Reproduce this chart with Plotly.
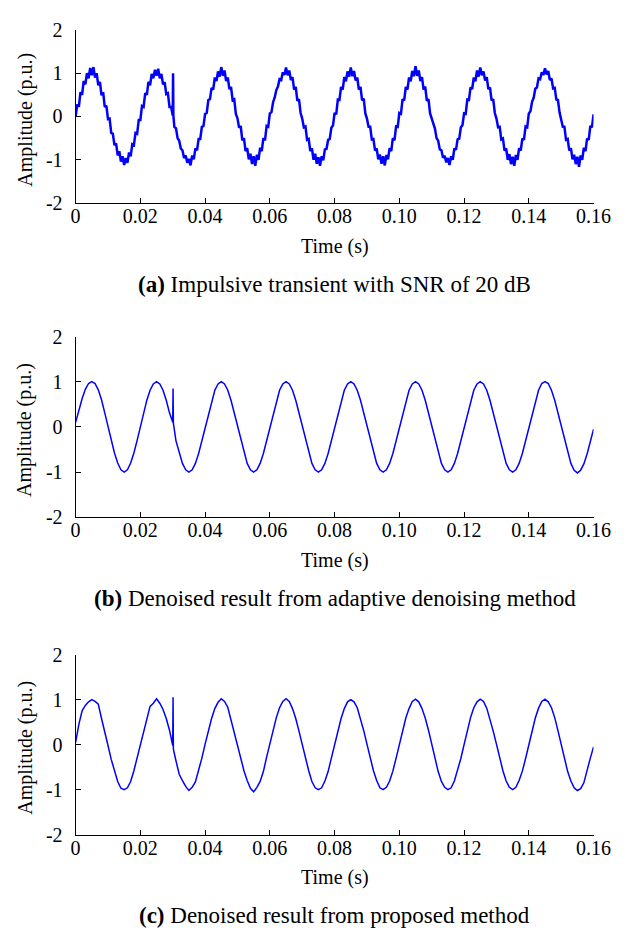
import plotly.graph_objects as go

# ---------------- data ----------------
# panel (a): noisy signal sampled every 0.5 ms (0 .. 0.16 s)
noisy_vals = [
    0.00, 0.28, 0.22, 0.56, 0.50, 0.82, 0.74, 1.00, 0.88, 1.12, 0.95, 1.14, 0.90, 1.00, 0.72, 0.80, 0.49, 0.56, 0.22, 0.25,
    -0.06, -0.05, -0.38, -0.40, -0.66, -0.62, -0.90, -0.80, -1.04, -0.92, -1.12, -0.96, -1.07, -0.83, -0.92, -0.64, -0.66, -0.38, -0.40, -0.08,
    -0.08, 0.24, 0.22, 0.54, 0.50, 0.80, 0.72, 0.98, 0.88, 1.08, 0.94, 1.10, 0.88, 0.98, 0.74, 0.79, 0.52, 0.54, 0.22, 0.22,
    0.02, -0.24, -0.27, -0.50, -0.56, -0.74, -0.78, -0.96, -0.90, -1.07, -0.98, -1.13, -0.90, -0.99, -0.74, -0.78, -0.52, -0.52, -0.24, -0.22,
    0.06, 0.08, 0.38, 0.40, 0.66, 0.62, 0.90, 0.82, 1.04, 0.92, 1.14, 0.94, 1.06, 0.82, 0.90, 0.63, 0.68, 0.38, 0.40, 0.06,
    -0.04, -0.26, -0.22, -0.55, -0.50, -0.80, -0.73, -0.99, -0.86, -1.10, -0.92, -1.14, -0.88, -1.00, -0.72, -0.80, -0.50, -0.55, -0.22, -0.24,
    0.07, 0.10, 0.33, 0.44, 0.61, 0.69, 0.86, 0.84, 1.02, 0.96, 1.13, 0.95, 1.06, 0.84, 0.91, 0.62, 0.68, 0.36, 0.40, 0.08,
    -0.05, -0.25, -0.23, -0.54, -0.52, -0.80, -0.74, -1.00, -0.86, -1.09, -0.94, -1.14, -0.92, -1.01, -0.76, -0.75, -0.54, -0.52, -0.26, -0.21,
    0.08, 0.05, 0.39, 0.38, 0.68, 0.62, 0.91, 0.81, 1.04, 0.92, 1.13, 0.93, 1.05, 0.83, 0.90, 0.62, 0.68, 0.37, 0.41, 0.07,
    -0.05, -0.24, -0.24, -0.53, -0.52, -0.79, -0.74, -0.99, -0.88, -1.09, -0.92, -1.13, -0.89, -0.99, -0.73, -0.80, -0.50, -0.55, -0.23, -0.24,
    0.08, 0.06, 0.40, 0.37, 0.68, 0.62, 0.90, 0.81, 1.05, 0.93, 1.16, 0.94, 1.06, 0.82, 0.91, 0.62, 0.69, 0.36, 0.40, 0.07,
    -0.06, -0.20, -0.28, -0.50, -0.56, -0.76, -0.78, -0.95, -0.91, -1.06, -0.96, -1.12, -0.92, -1.00, -0.74, -0.77, -0.53, -0.51, -0.25, -0.20,
    0.07, 0.06, 0.39, 0.38, 0.67, 0.63, 0.90, 0.81, 1.06, 0.92, 1.13, 0.95, 1.04, 0.83, 0.91, 0.63, 0.67, 0.37, 0.40, 0.08,
    -0.05, -0.25, -0.24, -0.53, -0.51, -0.79, -0.74, -1.00, -0.87, -1.10, -0.93, -1.14, -0.89, -1.00, -0.73, -0.79, -0.51, -0.54, -0.23, -0.25,
    0.07, 0.12, 0.34, 0.43, 0.64, 0.67, 0.88, 0.86, 1.02, 0.96, 1.11, 0.97, 1.05, 0.84, 0.88, 0.65, 0.66, 0.39, 0.38, 0.09,
    -0.06, -0.24, -0.24, -0.54, -0.52, -0.79, -0.73, -0.99, -0.88, -1.10, -0.93, -1.16, -0.90, -1.00, -0.72, -0.80, -0.51, -0.54, -0.22, -0.25,
    0.05,
]
noisy_spike_t = [0.0301, 0.0302]
noisy_spike_v = [1.00, 0.02]

# panel (b): adaptive denoising result, sampled every 1 ms
adaptive_vals = [
    0.10, 0.38, 0.62, 0.83, 0.96, 1.00, 0.96, 0.82, 0.60, 0.31, 0.01, -0.30, -0.58, -0.80, -0.95, -1.00, -0.95, -0.80, -0.58, -0.30,
    0.00, 0.31, 0.59, 0.81, 0.95, 1.00, 0.95, 0.81, 0.59, 0.31, 0.10, -0.31, -0.59, -0.81, -0.95, -1.00, -0.95, -0.81, -0.59, -0.31,
    0.00, 0.31, 0.59, 0.81, 0.95, 1.00, 0.95, 0.81, 0.59, 0.31, 0.00, -0.31, -0.59, -0.81, -0.95, -1.00, -0.95, -0.81, -0.59, -0.31,
    0.00, 0.31, 0.59, 0.81, 0.95, 1.00, 0.95, 0.81, 0.59, 0.31, 0.00, -0.31, -0.59, -0.81, -0.95, -1.00, -0.95, -0.81, -0.59, -0.31,
    0.00, 0.31, 0.59, 0.81, 0.95, 1.00, 0.95, 0.81, 0.59, 0.31, 0.00, -0.31, -0.59, -0.81, -0.95, -1.00, -0.95, -0.81, -0.59, -0.31,
    0.00, 0.31, 0.59, 0.81, 0.95, 1.00, 0.95, 0.81, 0.59, 0.31, 0.00, -0.31, -0.59, -0.81, -0.95, -1.00, -0.95, -0.81, -0.59, -0.31,
    0.00, 0.31, 0.59, 0.81, 0.95, 1.00, 0.95, 0.81, 0.59, 0.31, 0.00, -0.31, -0.59, -0.81, -0.95, -1.00, -0.95, -0.81, -0.59, -0.31,
    0.00, 0.31, 0.59, 0.81, 0.96, 1.00, 0.96, 0.81, 0.59, 0.31, 0.00, -0.31, -0.59, -0.81, -0.96, -1.02, -0.96, -0.82, -0.60, -0.32,
    -0.05,
]
adaptive_spike_t = [0.0301, 0.0302]
adaptive_spike_v = [0.85, 0.08]

# panel (c): proposed method result, sampled every 1 ms
proposed_vals = [
    0.05, 0.45, 0.75, 0.87, 0.95, 1.00, 0.96, 0.90, 0.58, 0.30, -0.02, -0.33, -0.60, -0.82, -0.97, -1.00, -0.96, -0.82, -0.58, -0.28,
    0.02, 0.32, 0.60, 0.85, 0.92, 1.02, 0.92, 0.78, 0.58, 0.32, -0.02, -0.36, -0.66, -0.80, -0.93, -1.02, -0.95, -0.83, -0.58, -0.30,
    0.01, 0.33, 0.58, 0.80, 0.94, 1.02, 0.96, 0.83, 0.55, 0.30, -0.02, -0.32, -0.58, -0.80, -0.97, -1.05, -0.95, -0.82, -0.60, -0.28,
    0.02, 0.32, 0.60, 0.82, 0.96, 1.02, 0.96, 0.80, 0.58, 0.30, 0.00, -0.30, -0.58, -0.82, -0.96, -1.00, -0.96, -0.81, -0.60, -0.30,
    0.00, 0.31, 0.58, 0.80, 0.95, 1.00, 0.95, 0.82, 0.58, 0.31, 0.01, -0.31, -0.58, -0.80, -0.96, -1.00, -0.95, -0.81, -0.59, -0.30,
    0.01, 0.30, 0.59, 0.80, 0.96, 1.01, 0.95, 0.80, 0.59, 0.32, 0.00, -0.31, -0.60, -0.82, -0.95, -1.00, -0.96, -0.81, -0.58, -0.31,
    0.00, 0.31, 0.60, 0.82, 0.95, 1.01, 0.96, 0.81, 0.58, 0.30, 0.01, -0.31, -0.58, -0.81, -0.95, -1.00, -0.95, -0.80, -0.59, -0.31,
    0.00, 0.30, 0.59, 0.81, 0.96, 1.01, 0.95, 0.82, 0.60, 0.31, 0.00, -0.31, -0.60, -0.81, -0.96, -1.02, -0.98, -0.85, -0.55, -0.30,
    -0.05,
]
proposed_spike_t = [0.0301, 0.0302]
proposed_spike_v = [1.05, -0.10]

x_ticks = [0, 0.02, 0.04, 0.06, 0.08, 0.10, 0.12, 0.14, 0.16]
x_ticktext = ["0", "0.02", "0.04", "0.06", "0.08", "0.10", "0.12", "0.14", "0.16"]
y_ticks = [-2, -1, 0, 1, 2]
y_ticktext = ["-2", "-1", "0", "1", "2"]

captions = [
    "<b>(a)</b> Impulsive transient with SNR of 20 dB",
    "<b>(b)</b> Denoised result from adaptive denoising method",
    "<b>(c)</b> Denoised result from proposed method",
]
x_title = "Time (s)"
y_title = "Amplitude (p.u.)"


def with_spike(step, vals, sp_t, sp_v):
    t = [round(i * step, 5) for i in range(len(vals))]
    idx = t.index(0.03) + 1
    return t[:idx] + sp_t + t[idx:], vals[:idx] + sp_v + vals[idx:]


series = [
    with_spike(0.0005, noisy_vals, noisy_spike_t, noisy_spike_v),
    with_spike(0.001, adaptive_vals, adaptive_spike_t, adaptive_spike_v),
    with_spike(0.001, proposed_vals, proposed_spike_t, proposed_spike_v),
]

# ---------------- layout (pixel based) ----------------
W, H = 629, 941
x0_px, x1_px = 73.3, 610.9
panels_px = [(19.3, 196.7), (333.3, 518.3), (659.0, 843.3)]

FONT = "Liberation Serif"
BLUE = "#0000ff"

fig = go.Figure()
annotations = []
for i, ((t, v), (top, bot)) in enumerate(zip(series, panels_px)):
    n = "" if i == 0 else str(i + 1)
    fig.add_trace(go.Scatter(
        x=t, y=v, mode="lines",
        line=dict(color=BLUE, width=2.5 if i == 0 else 1.5),
        xaxis="x" + n, yaxis="y" + n, showlegend=False, hoverinfo="skip",
    ))
    axis_common = dict(
        showline=True, linecolor="black", linewidth=1,
        ticks="inside", ticklen=5, tickwidth=1, tickcolor="black",
        showgrid=False, zeroline=False,
        tickfont=dict(family=FONT, size=20, color="black"),
        mirror=False,
    )
    fig.update_layout(**{
        "xaxis" + n: dict(
            domain=[x0_px / W, x1_px / W], range=[0, 0.16],
            tickmode="array", tickvals=x_ticks, ticktext=x_ticktext,
            anchor="y" + n, ticklabelstandoff=-5, **axis_common),
        "yaxis" + n: dict(
            domain=[1 - bot / H, 1 - top / H], range=[-2, 2],
            tickmode="array", tickvals=y_ticks, ticktext=y_ticktext,
            anchor="x" + n, ticklabelstandoff=8, **axis_common),
    })
    cx = (x0_px + x1_px) / 2 / W
    annotations.append(dict(
        text=x_title, x=cx, y=1 - (bot + 44) / H, xref="paper", yref="paper",
        xanchor="center", yanchor="middle", showarrow=False,
        font=dict(family=FONT, size=20, color="black")))
    annotations.append(dict(
        text=captions[i], x=cx, y=1 - (bot + 83) / H, xref="paper", yref="paper",
        xanchor="center", yanchor="middle", showarrow=False,
        font=dict(family=FONT, size=23, color="black")))
    annotations.append(dict(
        text=y_title, x=21 / W, y=1 - ((top + bot) / 2 + 3) / H, xref="paper", yref="paper",
        xanchor="center", yanchor="middle", showarrow=False, textangle=-90,
        font=dict(family=FONT, size=20, color="black")))

fig.update_layout(
    width=W, height=H, margin=dict(l=0, r=0, t=0, b=0),
    paper_bgcolor="white", plot_bgcolor="white",
    annotations=annotations,
)

fig.write_html("out.html")
